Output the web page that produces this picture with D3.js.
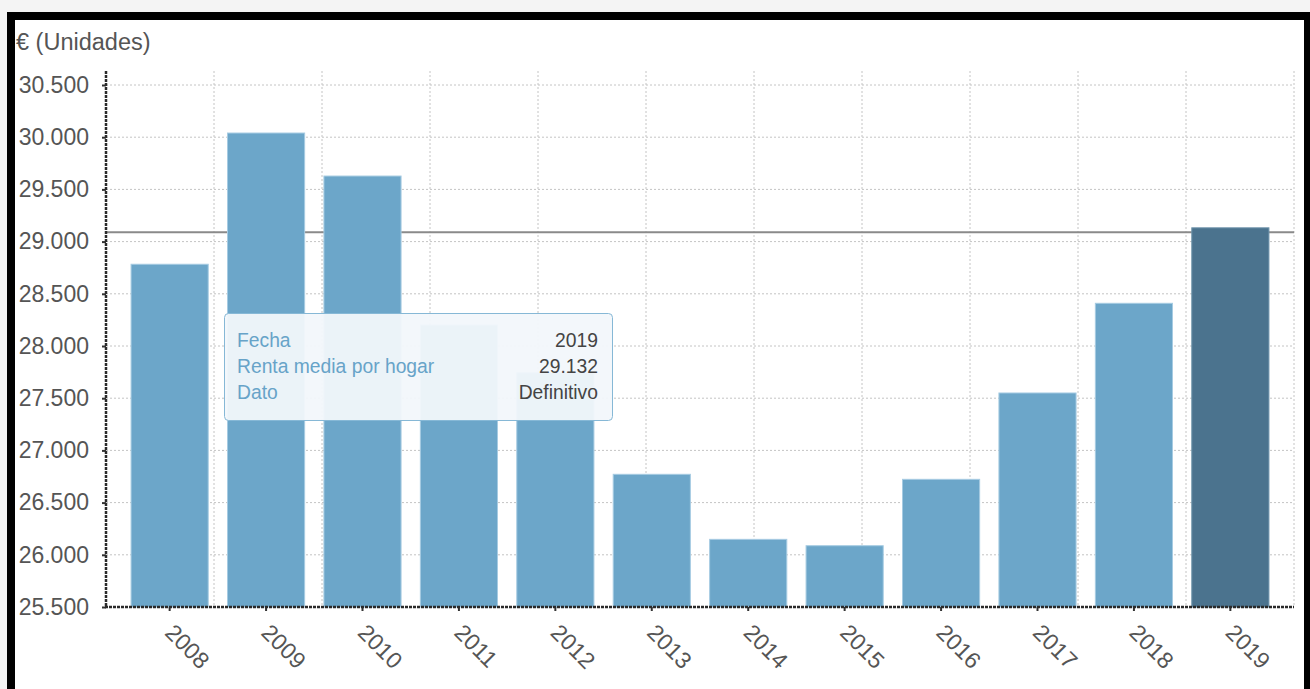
<!DOCTYPE html>
<html>
<head>
<meta charset="utf-8">
<script src="https://cdn.jsdelivr.net/npm/d3@7"></script>
<style>
  html, body { margin: 0; padding: 0; background: #f4f4f4; }
  svg { display: block; font-family: "Liberation Sans", Arial, sans-serif; }
</style>
</head>
<body>
<svg id="chart" width="1310" height="689"></svg>
<script>
// ---- data ----
const years = ["2008","2009","2010","2011","2012","2013","2014","2015","2016","2017","2018","2019"];
const renta = [28783, 30040, 29628, 28201, 27744, 26771, 26148, 26087, 26723, 27550, 28409, 29132];
const yTickValues = [25500, 26000, 26500, 27000, 27500, 28000, 28500, 29000, 29500, 30000, 30500];
const referenceValue = 29089;
const highlightYear = "2019";
const unitLabel = "€ (Unidades)";
const tooltipLabels = ["Fecha", "Renta media por hogar", "Dato"];
const tooltipValues = ["2019", "29.132", "Definitivo"];

// ---- layout ----
const svg = d3.select("#chart");
const W = 1310, H = 689;
const plot = { left: 106, right: 1294, top: 71, bottom: 607 };

const esLocale = d3.formatLocale({ decimal: ",", thousands: ".", grouping: [3], currency: ["", " €"] });
const fmt = esLocale.format(",.0f");

// frame
svg.append("rect").attr("x", 0).attr("y", 0).attr("width", W).attr("height", H).attr("fill", "#f4f4f4");
svg.append("rect").attr("x", 7).attr("y", 12).attr("width", 1303).attr("height", H).attr("fill", "#000");
svg.append("rect").attr("x", 15).attr("y", 20).attr("width", 1289).attr("height", H).attr("fill", "#fff");

const x = d3.scaleBand().domain(years).range([plot.left, plot.right]).paddingInner(0.2).paddingOuter(0.26);
const y = d3.scaleLinear().domain([25500, 30500]).range([607, 85]);
const gridX = d3.scaleLinear().domain([0, years.length - 1]).range([plot.left, plot.right]);

// grid
const grid = svg.append("g");
grid.selectAll("line.h").data(yTickValues).join("line")
  .attr("x1", plot.left).attr("x2", plot.right)
  .attr("y1", d => y(d)).attr("y2", d => y(d))
  .attr("stroke", "#c4c4c4").attr("stroke-width", 1).attr("stroke-dasharray", "2,2");
grid.selectAll("line.v").data(d3.range(years.length)).join("line")
  .attr("x1", d => gridX(d)).attr("x2", d => gridX(d))
  .attr("y1", plot.top).attr("y2", plot.bottom)
  .attr("stroke", "#c4c4c4").attr("stroke-width", 1).attr("stroke-dasharray", "2,2");

// reference line
svg.append("line")
  .attr("x1", plot.left).attr("x2", plot.right)
  .attr("y1", y(referenceValue)).attr("y2", y(referenceValue))
  .attr("stroke", "#8a8a8a").attr("stroke-width", 2);

// bars
svg.append("g").selectAll("rect").data(years).join("rect")
  .attr("x", d => x(d))
  .attr("width", x.bandwidth())
  .attr("y", (d, i) => y(renta[i]))
  .attr("height", (d, i) => y(25500) - y(renta[i]))
  .attr("fill", d => d === highlightYear ? "#4b738e" : "#6ca6c9")
  .attr("stroke", d => d === highlightYear ? "#6f94ab" : "#a6cbe2")
  .attr("stroke-width", 1);

// y axis
const yAxis = d3.axisLeft(y).tickValues(yTickValues).tickFormat(fmt).tickSize(4).tickPadding(13);
const gy = svg.append("g").attr("transform", `translate(${plot.left},0)`).call(yAxis);
gy.select(".domain").remove();
gy.selectAll(".tick line").attr("stroke", "#333").attr("stroke-width", 2);
gy.selectAll(".tick text").attr("fill", "#555").attr("font-size", 23).attr("font-family", "Liberation Sans, Arial, sans-serif");
svg.append("line").attr("x1", plot.left).attr("x2", plot.left).attr("y1", plot.top).attr("y2", plot.bottom + 1)
  .attr("stroke", "#2a2a2a").attr("stroke-width", 2.5).attr("stroke-dasharray", "3,1");

// x axis
const xAxis = d3.axisBottom(x).tickSize(4).tickSizeOuter(0);
const gx = svg.append("g").attr("transform", `translate(0,${plot.bottom})`).call(xAxis);
gx.select(".domain").remove();
gx.selectAll(".tick line").attr("stroke", "#333").attr("stroke-width", 2);
gx.selectAll(".tick text")
  .attr("fill", "#555").attr("font-size", 23).attr("font-family", "Liberation Sans, Arial, sans-serif")
  .attr("text-anchor", "start").attr("dy", 0).attr("y", 0)
  .attr("transform", "translate(-6,27) rotate(45)");
svg.append("line").attr("x1", plot.left - 1).attr("x2", plot.right).attr("y1", plot.bottom).attr("y2", plot.bottom)
  .attr("stroke", "#2a2a2a").attr("stroke-width", 2.5).attr("stroke-dasharray", "3,1");

// unit label
svg.append("text").attr("x", 16).attr("y", 50).attr("fill", "#555").attr("font-size", 23.5).text(unitLabel);

// tooltip
const tip = svg.append("g").attr("transform", "translate(224.5,313.5)");
tip.append("rect").attr("width", 388).attr("height", 107).attr("rx", 4)
  .attr("fill", "rgba(242,247,251,0.95)").attr("stroke", "#86b8d6").attr("stroke-width", 1);
tip.selectAll("text.lab").data(tooltipLabels).join("text")
  .attr("class", "lab").attr("x", 12.5).attr("y", (d, i) => 33 + i * 26)
  .attr("fill", "#67a3c8").attr("font-size", 19.3).text(d => d);
tip.selectAll("text.val").data(tooltipValues).join("text")
  .attr("class", "val").attr("x", 373.5).attr("y", (d, i) => 33 + i * 26)
  .attr("text-anchor", "end").attr("fill", "#444").attr("font-size", 19.3).text(d => d);
</script>
</body>
</html>
